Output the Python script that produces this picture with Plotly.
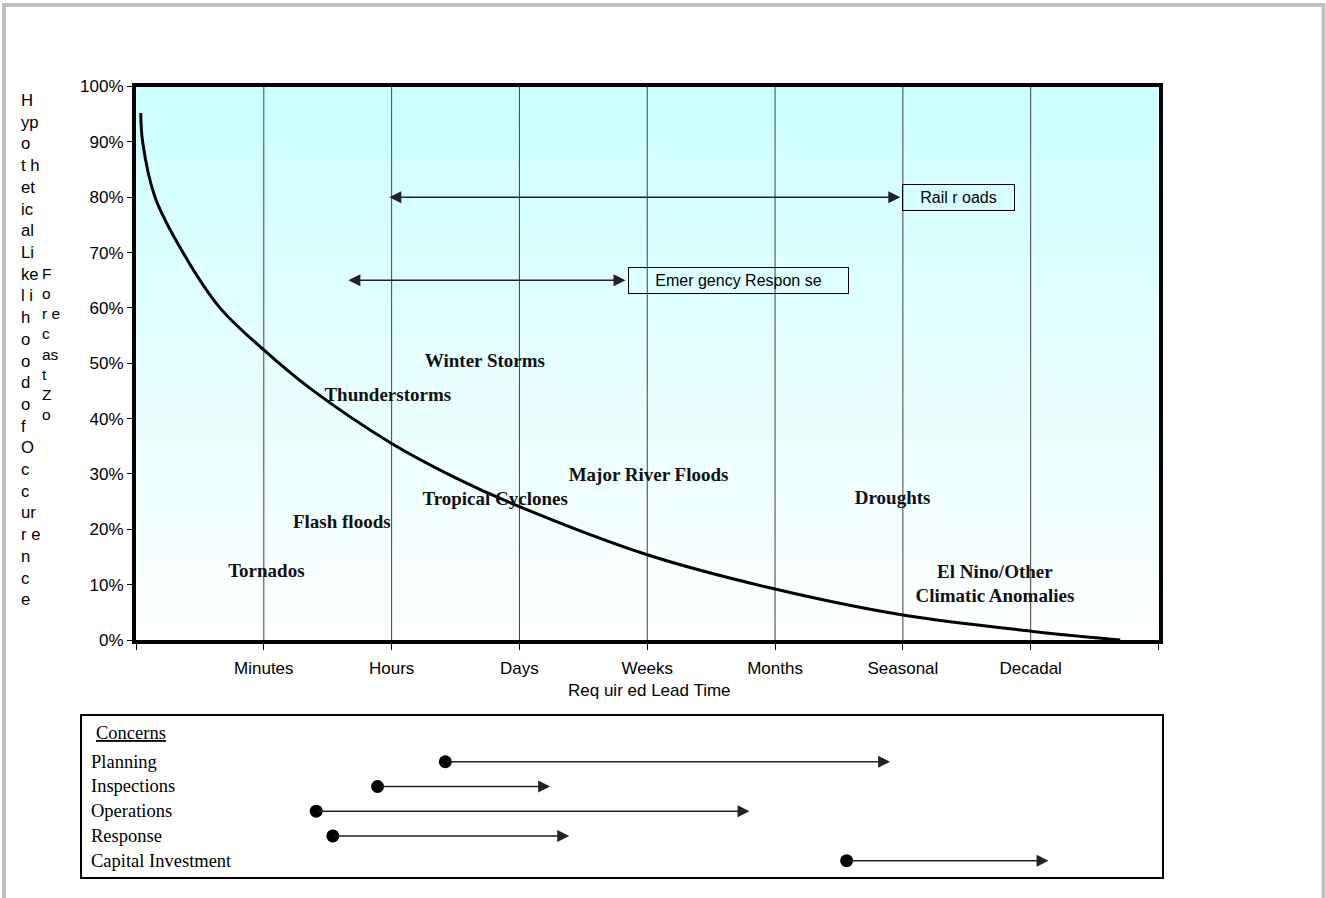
import numpy as np
import plotly.graph_objects as go

# ---- data -------------------------------------------------------------
lead_times = ["Minutes", "Hours", "Days", "Weeks", "Months", "Seasonal", "Decadal"]
pct_ticks = list(range(0, 101, 10))
pct_labels = [f"{v}%" for v in pct_ticks]

# forecast-skill curve (lead-time units, percent)
curve_x = [0.037, 0.052, 0.149, 0.37, 0.657, 1.0, 1.36, 2.0, 2.5, 3.0, 4.0, 5.0, 6.0, 7.0, 7.7]
curve_y = [95.2, 90.0, 80.0, 69.9, 60.0, 52.4, 45.5, 35.5, 29.3, 24.1, 15.4, 9.2, 4.5, 1.6, 0.0]

hazard_names = ["Tornados", "Flash floods", "Thunderstorms", "Winter Storms",
                "Tropical Cyclones", "Major River Floods", "Droughts",
                "El Nino/Other<br>Climatic Anomalies"]
hazard_x = [1.02, 1.61, 1.97, 2.73, 2.81, 4.01, 5.92, 6.72]
hazard_y = [12.3, 21.1, 44.1, 50.2, 25.3, 29.6, 25.5, 9.9]

sector_names = ["Rail r oads", "Emer gency Respon se"]
sector_from = [1.97, 1.65]
sector_to = [5.98, 3.83]
sector_y = [80, 65]

concern_names = ["Planning", "Inspections", "Operations", "Response", "Capital Investment"]
concern_from = [2.42, 1.89, 1.41, 1.54, 5.56]
concern_to = [5.90, 3.24, 4.80, 3.39, 7.14]

y_title_col1 = ["H", "yp", "o", "t h", "et", "ic", "al", "Li", "ke", "l i", "h", "o", "o",
                "d", "o", "f", "O", "c", "c", "ur", "r e", "n", "c", "e"]
y_title_col2 = ["F", "o", "r e", "c", "as", "t", "Z", "o"]

# ---- layout geometry (pixels) ----------------------------------------
W, H = 1326, 898
PX0, PX1, PY0, PY1 = 136, 1158.5, 86.5, 640      # chart plot area
BX0, BX1, BY0, BY1 = 82, 1162, 716, 877          # concerns panel


def px(x):
    return x / W


def py(y):
    return 1 - y / H


n_int = len(lead_times) + 1
unit = (PX1 - PX0) / n_int
x2_range = [(BX0 - PX0) / unit, (BX1 - PX0) / unit]

SANS = "Liberation Sans, Arial, sans-serif"
SERIF = "Liberation Serif, Times New Roman, serif"

fig = go.Figure()

# gradient plot background
gy = np.linspace(0, 100, 21)
fig.add_trace(go.Heatmap(
    x=[0, n_int], y=gy, z=[[v, v] for v in gy],
    colorscale=[[0, "#FFFFFF"], [1, "#CCFFFF"]], zsmooth="best",
    showscale=False, hoverinfo="skip", xaxis="x", yaxis="y"))

# vertical grid lines at each lead-time category
gx, gyy = [], []
for i in range(1, n_int):
    gx += [i, i, None]
    gyy += [0, 100, None]
fig.add_trace(go.Scatter(x=gx, y=gyy, mode="lines",
                         line=dict(color="#404040", width=1),
                         hoverinfo="skip", showlegend=False))

# likelihood curve
fig.add_trace(go.Scatter(x=curve_x, y=curve_y, mode="lines",
                         line=dict(color="black", width=3, shape="spline", smoothing=1.0),
                         showlegend=False))

# hazard labels
fig.add_trace(go.Scatter(x=hazard_x, y=hazard_y, mode="text", text=hazard_names,
                         textposition="middle center",
                         textfont=dict(family=SERIF, size=19, color="#111111", weight="bold"),
                         showlegend=False, hoverinfo="skip"))

# concern start dots
rows = list(range(1, len(concern_names) + 1))
fig.add_trace(go.Scatter(x=concern_from, y=rows, mode="markers",
                         marker=dict(color="black", size=13),
                         xaxis="x2", yaxis="y2", showlegend=False, hoverinfo="skip"))

annotations = []

# sector arrows with boxed labels
for name, x0, x1, yv, w in zip(sector_names, sector_from, sector_to, sector_y, [107, 215]):
    annotations.append(dict(x=x1, y=yv, ax=x0, ay=yv, xref="x", yref="y", axref="x", ayref="y",
                            text="", showarrow=True, arrowhead=2, arrowside="end+start",
                            arrowsize=1.6, arrowwidth=1.5, arrowcolor="#222222",
                            standoff=0, startstandoff=0))
    annotations.append(dict(x=x1, y=yv, xref="x", yref="y", text=name, showarrow=False,
                            xanchor="left", xshift=2, width=w, height=21, align="center",
                            bordercolor="black", borderwidth=1, borderpad=2,
                            font=dict(family=SANS, size=16, color="black")))

# concern arrows and labels
for r, name, x0, x1 in zip(rows, concern_names, concern_from, concern_to):
    annotations.append(dict(x=x1, y=r, ax=x0, ay=r, xref="x2", yref="y2", axref="x2", ayref="y2",
                            text="", showarrow=True, arrowhead=2, arrowsize=1.6,
                            arrowwidth=1.5, arrowcolor="#222222", standoff=0, startstandoff=0))
    annotations.append(dict(x=px(89), y=r, xref="paper", yref="y2", text=name, showarrow=False,
                            xanchor="left", yanchor="middle",
                            font=dict(family=SERIF, size=18.5, color="black")))
annotations.append(dict(x=px(94), y=0, xref="paper", yref="y2", text="Concerns", showarrow=False,
                        xanchor="left", yanchor="middle", yshift=4,
                        font=dict(family=SERIF, size=18.5, color="black", lineposition="under")))

# axis titles
annotations.append(dict(x=px((PX0 + PX1) / 2 + 2), y=py(690), xref="paper", yref="paper",
                        text="Req uir ed Lead Time", showarrow=False,
                        xanchor="center", yanchor="middle",
                        font=dict(family=SANS, size=17, color="black")))
annotations.append(dict(x=px(19), y=py(89), xref="paper", yref="paper",
                        text="<br>".join(y_title_col1), showarrow=False, xanchor="left",
                        yanchor="top", align="left",
                        font=dict(family=SANS, size=16.7, color="black")))
annotations.append(dict(x=px(40), y=py(263), xref="paper", yref="paper",
                        text="<br>".join(y_title_col2), showarrow=False, xanchor="left",
                        yanchor="top", align="left",
                        font=dict(family=SANS, size=15.5, color="black")))

shapes = [dict(type="rect", xref="paper", yref="paper", x0=px(4), x1=px(1323.5),
               y0=py(5), y1=py(920), line=dict(color="#C0C0C0", width=4), layer="below")]

fig.update_layout(
    width=W, height=H, margin=dict(l=0, r=0, t=0, b=0, autoexpand=False),
    paper_bgcolor="white", plot_bgcolor="white", showlegend=False,
    xaxis=dict(domain=[px(PX0), px(PX1)], range=[0, n_int], automargin=False,
               tickvals=list(range(n_int + 1)), ticktext=[""] + lead_times + [""],
               ticks="outside", ticklen=6, tickwidth=1, tickcolor="black",
               ticklabelstandoff=4,
               showline=True, linewidth=4, linecolor="black", mirror=True,
               showgrid=False, zeroline=False,
               tickfont=dict(family=SANS, size=17, color="black")),
    yaxis=dict(domain=[py(PY1), py(PY0)], range=[0, 100], automargin=False,
               tickvals=pct_ticks, ticktext=pct_labels,
               ticks="outside", ticklen=5, tickwidth=1, tickcolor="black",
               showline=True, linewidth=4, linecolor="black", mirror=True,
               showgrid=False, zeroline=False,
               tickfont=dict(family=SANS, size=17, color="black")),
    xaxis2=dict(domain=[px(BX0), px(BX1)], range=x2_range, anchor="y2", automargin=False,
                showline=True, linewidth=2, linecolor="black", mirror=True,
                showgrid=False, zeroline=False, showticklabels=False, ticks=""),
    yaxis2=dict(domain=[py(BY1), py(BY0)], range=[5.66, -0.85], anchor="x2", automargin=False,
                showline=True, linewidth=2, linecolor="black", mirror=True,
                showgrid=False, zeroline=False, showticklabels=False, ticks=""),
    annotations=annotations, shapes=shapes,
)

fig.write_html("out.html")
